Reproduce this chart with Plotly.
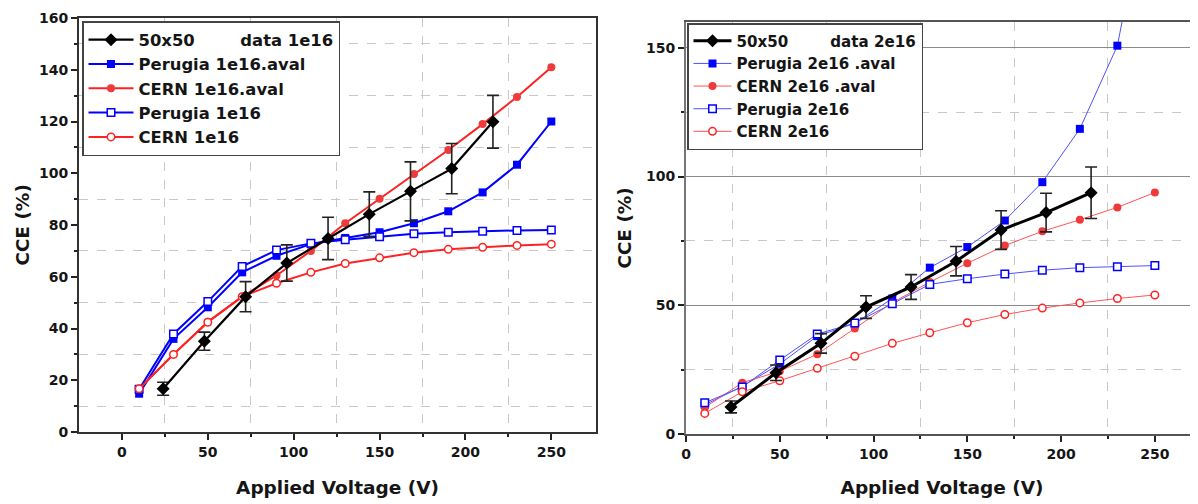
import plotly.graph_objects as go

# ---------------- data ----------------
V_SIM = [10, 30, 50, 70, 90, 110, 130, 150, 170, 190, 210, 230, 250]
V_DATA = [24, 48, 72, 96, 120, 144, 168, 192, 216]

# left panel: fluence 1e16
data_1e16 = [16.7, 35.1, 52.3, 65.3, 74.8, 84.2, 93.0, 101.8, 119.9]
data_1e16_err = [2.5, 3.5, 5.8, 7.0, 8.2, 8.6, 11.4, 9.7, 10.2]
perugia_aval_1e16 = [14.8, 36.0, 48.2, 61.7, 68.1, 72.6, 75.0, 77.2, 80.7, 85.3, 92.6, 103.3, 120.0]
cern_aval_1e16 = [16.7, 30.0, 42.6, 52.3, 60.5, 70.0, 80.7, 90.1, 99.7, 109.0, 119.0, 129.5, 141.0]
perugia_1e16 = [16.5, 37.9, 50.4, 64.0, 70.3, 72.9, 74.3, 75.5, 76.6, 77.2, 77.6, 77.9, 78.1]
cern_1e16 = [16.7, 30.0, 42.4, 52.3, 57.5, 61.7, 65.1, 67.3, 69.3, 70.6, 71.4, 72.1, 72.6]

# right panel: fluence 2e16
data_2e16 = [10.5, 23.8, 35.2, 49.3, 57.1, 67.1, 79.2, 86.0, 93.7]
data_2e16_err = [2.3, 3.0, 3.8, 4.4, 4.8, 5.7, 7.5, 7.5, 10.0]
perugia_aval_2e16 = [11.3, 18.5, 27.2, 38.0, 43.0, 52.6, 64.6, 72.6, 82.9, 97.8, 118.5, 150.8, 225.0]
cern_aval_2e16 = [10.3, 19.9, 24.4, 31.0, 41.0, 51.0, 59.0, 66.3, 73.2, 78.7, 83.2, 88.0, 93.8]
perugia_2e16 = [12.1, 18.3, 28.7, 38.8, 43.1, 50.6, 58.1, 60.3, 62.1, 63.6, 64.6, 65.0, 65.4]
cern_2e16 = [8.0, 16.4, 20.7, 25.5, 30.2, 35.2, 39.3, 43.2, 46.4, 48.9, 50.9, 52.6, 54.0]

NAMES_L = ["50x50\u00a0\u00a0\u00a0\u00a0\u00a0\u00a0\u00a0\u00a0data 1e16", "Perugia 1e16.aval",
           "CERN 1e16.aval", "Perugia 1e16", "CERN 1e16"]
NAMES_R = ["50x50\u00a0\u00a0\u00a0\u00a0\u00a0\u00a0\u00a0\u00a0data 2e16", "Perugia 2e16 .aval",
           "CERN 2e16 .aval", "Perugia 2e16", "CERN 2e16"]
X_TITLE = "Applied Voltage (V)"
Y_TITLE = "CCE (%)"

# ---------------- style ----------------
OFF = 8                      # page body margin
FW, FH = 1198 - OFF, 504 - OFF
FONT = "DejaVu Sans"
TXT = "#151515"
BLUE = "#0000ff"
RED = "#ff2222"
REDM = "#ee3a3a"


def px(s):
    return (s - OFF) / FW


def py(s):
    return 1 - (s - OFF) / FH


fig = go.Figure()


def add_panel(xa, ya, leg, names, aval_p, aval_c, plain_p, plain_c, dat, err,
              lw, blackw, ms, redline, blueline):
    fig.add_trace(go.Scatter(x=V_SIM, y=aval_p, name=names[1], xaxis=xa, yaxis=ya, legend=leg,
                             legendrank=2, mode="lines+markers",
                             line=dict(color=blueline, width=lw),
                             marker=dict(symbol="square", size=ms, color=BLUE)))
    fig.add_trace(go.Scatter(x=V_SIM, y=aval_c, name=names[2], xaxis=xa, yaxis=ya, legend=leg,
                             legendrank=3, mode="lines+markers",
                             line=dict(color=redline, width=lw),
                             marker=dict(symbol="circle", size=ms, color=REDM)))
    fig.add_trace(go.Scatter(x=V_SIM, y=plain_p, name=names[3], xaxis=xa, yaxis=ya, legend=leg,
                             legendrank=4, mode="lines+markers",
                             line=dict(color=blueline, width=lw),
                             marker=dict(symbol="square", size=ms - 0.5, color="white",
                                         line=dict(color=BLUE, width=1.5))))
    fig.add_trace(go.Scatter(x=V_SIM, y=plain_c, name=names[4], xaxis=xa, yaxis=ya, legend=leg,
                             legendrank=5, mode="lines+markers",
                             line=dict(color=redline, width=lw),
                             marker=dict(symbol="circle", size=ms - 0.5, color="white",
                                         line=dict(color=RED, width=1.5))))
    fig.add_trace(go.Scatter(x=V_DATA, y=dat, name=names[0], xaxis=xa, yaxis=ya, legend=leg,
                             legendrank=1, mode="lines+markers",
                             line=dict(color="black", width=blackw),
                             marker=dict(symbol="diamond", size=10, color="black"),
                             error_y=dict(type="data", array=err, color="#222222",
                                          thickness=1.6, width=6)))


add_panel("x", "y", "legend", NAMES_L, perugia_aval_1e16, cern_aval_1e16, perugia_1e16, cern_1e16,
          data_1e16, data_1e16_err, 2, 2.2, 8, RED, BLUE)
add_panel("x2", "y2", "legend2", NAMES_R, perugia_aval_2e16, cern_aval_2e16, perugia_2e16, cern_2e16,
          data_2e16, data_2e16_err, 1, 3, 8, "#ff5555", "#5050ff")

tickfont = dict(family=FONT, size=14, weight="bold", color=TXT)
titlefont = dict(family=FONT, size=18.5, weight="bold", color=TXT)
dashgrid = dict(showgrid=True, gridcolor="#c8c8c8", griddash="dash", gridwidth=1)

fig.update_layout(
    width=FW, height=FH,
    margin=dict(l=0, r=0, t=0, b=0, autoexpand=False),
    paper_bgcolor="white", plot_bgcolor="white",
    showlegend=True,
    xaxis=dict(domain=[px(79), px(596)], range=[-25, 276], anchor="y", automargin=False,
               tickvals=[0, 50, 100, 150, 200, 250], ticks="outside", ticklen=6, tickwidth=1.5,
               tickcolor="#222", showline=True, linecolor="#333", linewidth=2, mirror=True,
               showgrid=False, zeroline=False, tickfont=tickfont,
               minor=dict(tickvals=[25, 75, 125, 175, 225], ticks="outside", ticklen=3,
                          tickcolor="#222", **dashgrid),
               title=dict(text=X_TITLE, font=titlefont, standoff=22)),
    yaxis=dict(domain=[py(432), py(18)], range=[0, 160], anchor="x", automargin=False,
               dtick=20, ticks="outside", ticklen=6, tickwidth=1.5, tickcolor="#222",
               showline=True, linecolor="#333", linewidth=2, mirror=True,
               showgrid=False, zeroline=False, tickfont=tickfont,
               minor=dict(tickvals=[10, 30, 50, 70, 90, 110, 130, 150], ticks="outside",
                          ticklen=3, tickcolor="#222", **dashgrid),
               title=dict(text=Y_TITLE, font=titlefont, standoff=4)),
    xaxis2=dict(domain=[px(686), 1.0], range=[0, 273], anchor="y2", automargin=False,
                tickvals=[0, 50, 100, 150, 200, 250], ticks="outside", ticklen=6, tickwidth=1.5,
                tickcolor="#222", showline=True, linecolor="#555", linewidth=2, mirror=True,
                showgrid=False, zeroline=False, tickfont=tickfont,
                minor=dict(tickvals=[25, 75, 125, 175, 225], ticks="outside", ticklen=3,
                           tickcolor="#222", **dashgrid),
                title=dict(text=X_TITLE, font=titlefont, standoff=20)),
    yaxis2=dict(domain=[py(434), py(22)], range=[0, 160], anchor="x2", automargin=False,
                tickvals=[0, 50, 100, 150], ticks="outside", ticklen=6, tickwidth=1.5,
                tickcolor="#222", showline=True, linecolor="#777", linewidth=2, mirror=False,
                showgrid=True, gridcolor="#8a8a8a", gridwidth=1.2, zeroline=False,
                tickfont=tickfont,
                minor=dict(tickvals=[25, 75, 125], ticks="outside", ticklen=3,
                           tickcolor="#222", **dashgrid),
                title=dict(text=Y_TITLE, font=titlefont, standoff=9)),
    legend=dict(x=px(82), y=py(21), xanchor="left", yanchor="top", bgcolor="white",
                bordercolor="#444", borderwidth=1.5, itemwidth=45, traceorder="normal",
                font=dict(family=FONT, size=16.4, weight="bold", color=TXT)),
    legend2=dict(x=px(687), y=py(23), xanchor="left", yanchor="top", bgcolor="white",
                 bordercolor="#444", borderwidth=1.5, itemwidth=38, traceorder="normal",
                 font=dict(family=FONT, size=15.1, weight="bold", color=TXT)),
)

fig.write_html("out.html")
